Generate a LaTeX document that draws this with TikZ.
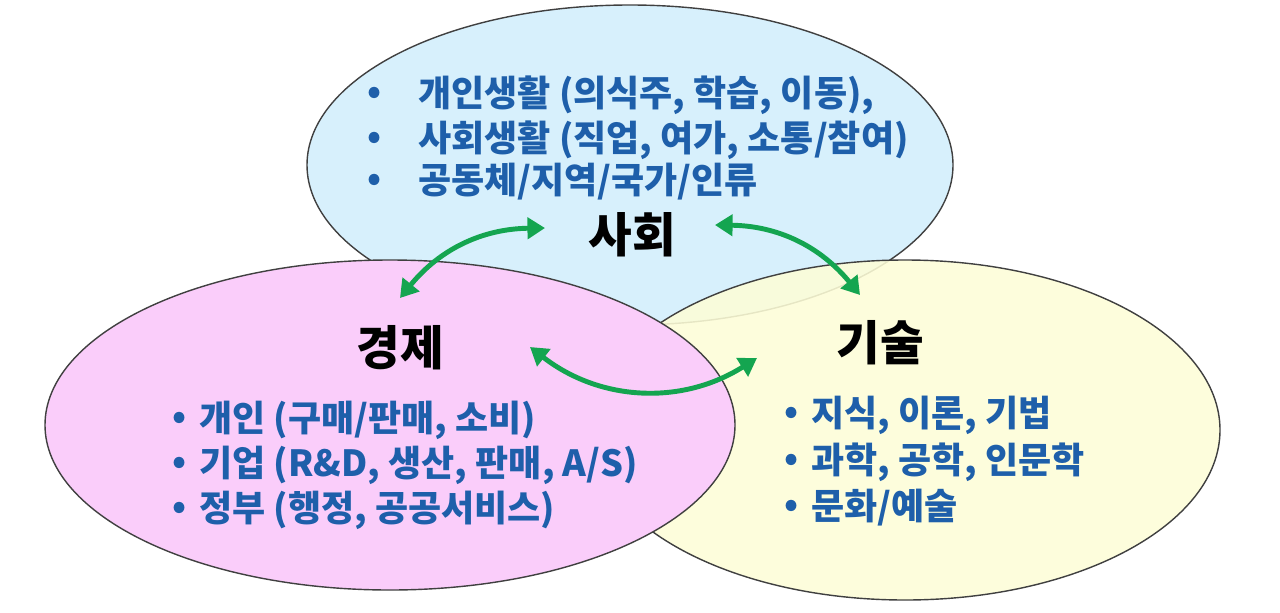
\documentclass[tikz,border=0pt]{standalone}
\usepackage{fontspec}
\setmainfont{Noto Sans CJK KR}
\usetikzlibrary{arrows.meta}
\definecolor{txtblue}{RGB}{30,95,170}
\definecolor{arrgreen}{RGB}{20,165,80}
\begin{document}
\begin{tikzpicture}[x=0.02cm,y=-0.02cm,
  item/.style={anchor=west,text=txtblue,font=\bfseries\fontsize{20.5}{24}\selectfont},
  bul/.style={text=txtblue,font=\bfseries\fontsize{20}{24}\selectfont},
  ttl/.style={font=\bfseries\fontsize{27}{32}\selectfont},
  arr/.style={draw=arrgreen,line width=2.8pt,{Triangle[length=10pt,width=12pt]}-{Triangle[length=10pt,width=12pt]}},
  ell/.style={draw=black!75,line width=0.8pt}]
\useasboundingbox (0,0) rectangle (1280,612);
\filldraw[ell,fill={rgb,255:red,215;green,240;blue,252}] (630,165) ellipse [x radius=323,y radius=160];
\filldraw[ell,fill={rgb,255:red,253;green,253;blue,215},fill opacity=0.88] (905,430) ellipse [x radius=315,y radius=170];
\filldraw[ell,fill={rgb,255:red,250;green,205;blue,250}] (390,425) ellipse [x radius=345,y radius=165];
\foreach \y/\t [count=\i] in {95/{개인생활 (의식주, 학습, 이동),},140/{사회생활 (직업, 여가, 소통/참여)},182/{공동체/지역/국가/인류}}{
  \node[bul] (tb\i) at (375,\y) {•};
  \node[item] (tt\i) at (412,\y) {\t};}
\node[ttl] (soc) at (632,235) {사회};
\node[ttl] (eco) at (400,348) {경제};
\node[ttl] (tec) at (880,343) {기술};
\foreach \y/\t [count=\i] in {420/{개인 (구매/판매, 소비)},465/{기업 (R\&D, 생산, 판매, A/S)},510/{정부 (행정, 공공서비스)}}{
  \node[bul] (lb\i) at (180,\y) {•};
  \node[item] (lt\i) at (193,\y) {\t};}
\foreach \y/\t [count=\i] in {415/{지식, 이론, 기법},462/{과학, 공학, 인문학},508/{문화/예술}}{
  \node[bul] (rb\i) at (792,\y) {•};
  \node[item] (rt\i) at (805,\y) {\t};}
\coordinate (a1) at (545,228); \coordinate (a2) at (400,298);
\coordinate (b1) at (715,225); \coordinate (b2) at (860,295);
\coordinate (c1) at (530,347); \coordinate (c2) at (757,358);
\draw[arr] (a1) to[bend right=25] (a2);
\draw[arr] (b1) to[bend left=25] (b2);
\draw[arr] (c1) to[bend right=35] (c2);
\end{tikzpicture}
\end{document}
